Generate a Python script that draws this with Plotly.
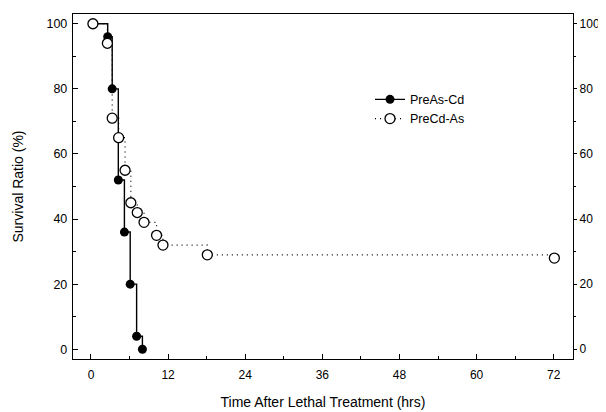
import plotly.graph_objects as go

# PreAs-Cd (filled circles, solid step line)
t_ascd = [0.3, 2.6, 3.3, 4.25, 5.2, 6.1, 7.1, 8.0]
s_ascd = [100, 96, 80, 52, 36, 20, 4, 0]

# PreCd-As (open circles, dotted step line)
t_cdas = [0.3, 2.55, 3.3, 4.3, 5.3, 6.2, 7.2, 8.25, 10.2, 11.2, 18.1, 72.1]
s_cdas = [100, 94, 71, 65, 55, 45, 42, 39, 35, 32, 29, 28]

x_ticks = [0, 12, 24, 36, 48, 60, 72]
y_ticks = [0, 20, 40, 60, 80, 100]

FONT = "Liberation Sans, Arial, sans-serif"

fig = go.Figure()
fig.add_trace(go.Scatter(
    x=t_ascd, y=s_ascd, name="PreAs-Cd", mode="lines+markers",
    line=dict(shape="hv", color="black", width=1.4),
    marker=dict(symbol="circle", size=9, color="black"),
))
fig.add_trace(go.Scatter(
    x=t_cdas, y=s_cdas, name="PreCd-As", mode="lines+markers",
    line=dict(shape="hv", color="black", width=1.2, dash="1px,4px"),
    marker=dict(symbol="circle", size=10, color="white", line=dict(color="black", width=1.3)),
))
fig.add_trace(go.Scatter(x=[None], y=[None], yaxis="y2", showlegend=False, hoverinfo="skip"))

fig.update_layout(
    width=598, height=404,
    margin=dict(l=65, r=33, t=6, b=53, autoexpand=False),
    paper_bgcolor="white", plot_bgcolor="white",
    font=dict(family=FONT, size=12, color="black"),
    showlegend=True,
    legend=dict(x=0.594, y=0.795, xanchor="left", yanchor="top",
                bgcolor="rgba(0,0,0,0)", font=dict(size=12.5, family=FONT),
                itemwidth=30, tracegroupgap=0),
    xaxis=dict(
        range=[-2.8, 75], tickvals=x_ticks, ticktext=[str(v) for v in x_ticks],
        ticks="inside", ticklen=5, tickwidth=1.2, tickcolor="black",
        minor=dict(dtick=6, tick0=0, ticks="inside", ticklen=3, tickcolor="black"),
        showline=True, linecolor="black", linewidth=1.4, mirror=True,
        showgrid=False, zeroline=False, automargin=False, ticklabelstandoff=4,
        title=dict(text="Time After Lethal Treatment (hrs)", font=dict(size=14, family=FONT), standoff=16),
    ),
    yaxis=dict(
        range=[-3, 103], tickvals=y_ticks, ticktext=[str(v) for v in y_ticks],
        ticks="inside", ticklen=5, tickwidth=1.2, tickcolor="black",
        minor=dict(dtick=10, tick0=0, ticks="inside", ticklen=3, tickcolor="black"),
        showline=True, linecolor="black", linewidth=1.4, tickfont=dict(size=12.5),
        showgrid=False, zeroline=False, ticklabelstandoff=2, automargin=False,
        title=dict(text="Survival Ratio (%)", font=dict(size=14, family=FONT), standoff=19),
    ),
    yaxis2=dict(
        range=[-3, 103], tickvals=y_ticks, ticktext=[str(v) for v in y_ticks],
        overlaying="y", side="right", tickfont=dict(size=12),
        ticks="outside", ticklen=3, tickwidth=1.2, tickcolor="black",
        minor=dict(dtick=10, tick0=0, ticks="outside", ticklen=2, tickcolor="black"),
        showline=True, linecolor="black", linewidth=1.4,
        showgrid=False, zeroline=False, automargin=False,
    ),
)

fig.write_html("out.html")
